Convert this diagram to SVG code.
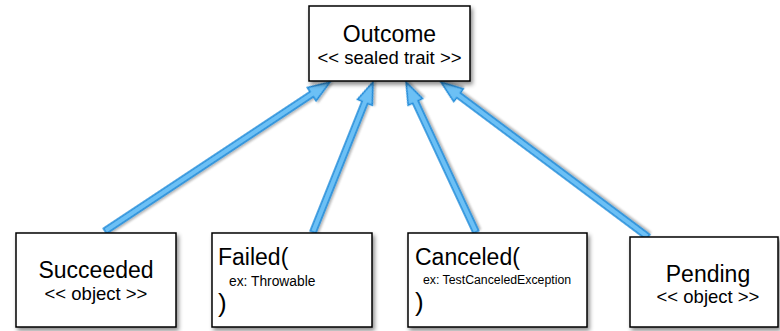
<svg xmlns="http://www.w3.org/2000/svg" width="780" height="331" viewBox="0 0 780 331">
<defs>
<style>
.box{fill:#fff;stroke:#000;stroke-width:1.5;filter:url(#sh)}
.t{font-family:"Liberation Sans",Arial,sans-serif;fill:#000}
.big{font-size:23px}
.mid{font-size:18.5px}
.sm{font-size:13.8px}
.xs{font-size:12.3px}
.par{font-size:26px}
.arr{fill:#6cc0f5;stroke:#1b88d8;stroke-width:1.4;stroke-linejoin:miter;filter:url(#ash)}
</style>
<filter id="sh" x="-10%" y="-10%" width="130%" height="130%">
<feDropShadow dx="2" dy="3" stdDeviation="2" flood-color="#000" flood-opacity="0.45"/>
</filter>
<filter id="ash" x="-10%" y="-50%" width="120%" height="200%">
<feDropShadow dx="1" dy="2" stdDeviation="1.2" flood-color="#000" flood-opacity="0.3"/>
</filter>
</defs>
<g id="connectors">
<g transform="translate(105,231) rotate(-33.5)"><polygon class="arr" points="0,-3 247.9,-3 247.9,-8 269.9,0 247.9,8 247.9,3 0,3"/></g>
<g transform="translate(313,232) rotate(-68.2)"><polygon class="arr" points="0,-3 139.6,-3 139.6,-8 161.6,0 139.6,8 139.6,3 0,3"/></g>
<g transform="translate(476,232) rotate(-115)"><polygon class="arr" points="0,-3 143.5,-3 143.5,-8 165.5,0 143.5,8 143.5,3 0,3"/></g>
<g transform="translate(648,237) rotate(-143.2)"><polygon class="arr" points="0,-3 236.6,-3 236.6,-8 258.6,0 236.6,8 236.6,3 0,3"/></g>
</g>
<g id="outcome">
<rect class="box" x="309" y="6" width="161" height="75"/>
<text class="t big" x="389.5" y="42" text-anchor="middle">Outcome</text>
<text class="t mid" x="389.5" y="64" text-anchor="middle">&lt;&lt; sealed trait &gt;&gt;</text>
</g>
<g id="succeeded">
<rect class="box" x="16" y="233" width="160" height="94"/>
<text class="t big" x="96" y="278" text-anchor="middle">Succeeded</text>
<text class="t mid" x="96" y="300" text-anchor="middle">&lt;&lt; object &gt;&gt;</text>
</g>
<g id="failed">
<rect class="box" x="212" y="233" width="160" height="94"/>
<text class="t big" x="218" y="265">Failed(</text>
<text class="t sm" x="229" y="286">ex: Throwable</text>
<text class="t par" x="218" y="312">)</text>
</g>
<g id="canceled">
<rect class="box" x="408" y="233" width="179" height="94"/>
<text class="t big" x="415" y="265">Canceled(</text>
<text class="t xs" x="423" y="284">ex: TestCanceledException</text>
<text class="t par" x="415" y="311">)</text>
</g>
<g id="pending">
<rect class="box" x="630" y="237" width="148" height="90"/>
<text class="t big" x="708" y="282" text-anchor="middle">Pending</text>
<text class="t mid" x="708" y="303" text-anchor="middle">&lt;&lt; object &gt;&gt;</text>
</g>
</svg>
